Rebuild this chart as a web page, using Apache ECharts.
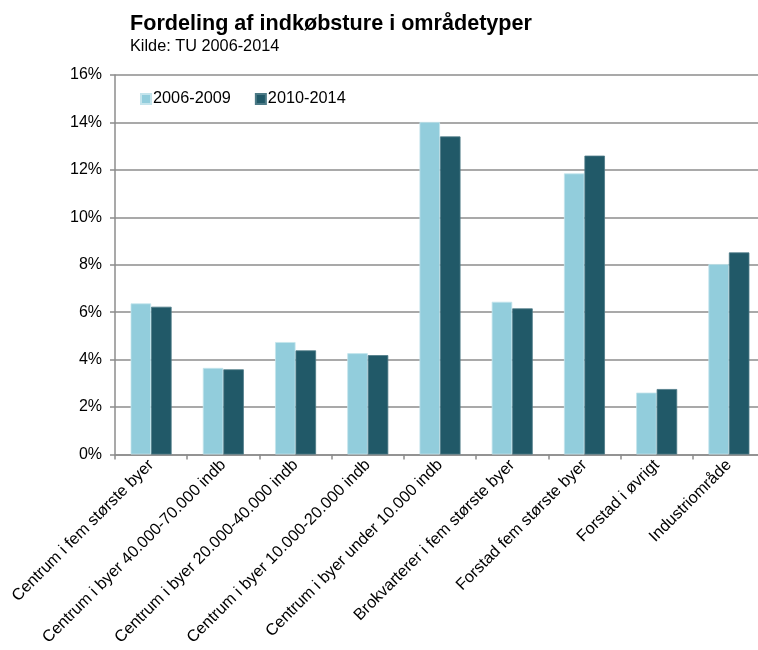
<!DOCTYPE html>
<html>
<head>
<meta charset="utf-8">
<script src="https://cdn.jsdelivr.net/npm/echarts@6/dist/echarts.min.js"></script>
<style>
  html, body { margin: 0; padding: 0; background: #ffffff; }
  #chart { width: 758px; height: 650px; }
</style>
</head>
<body>
<div id="chart"></div>
<script>
// Områdetyper (x-akse)
const categories = [
  'Centrum i fem største byer',
  'Centrum i byer 40.000-70.000 indb',
  'Centrum i byer 20.000-40.000 indb',
  'Centrum i byer 10.000-20.000 indb',
  'Centrum i byer under 10.000 indb',
  'Brokvarterer i fem største byer',
  'Forstad fem største byer',
  'Forstad i øvrigt',
  'Industriområde'
];

// Andel af indkøbsture i procent
const period1Name = '2006-2009';
const period1 = [6.37, 3.65, 4.74, 4.27, 14.02, 6.44, 11.85, 2.61, 8.03];

const period2Name = '2010-2014';
const period2 = [6.23, 3.59, 4.39, 4.19, 13.41, 6.16, 12.6, 2.76, 8.52];

// Y-aksens skala
const yMin = 0;
const yMax = 16;
const yStep = 2;

const FONT = '"Liberation Sans", Arial, sans-serif';
const chart = echarts.init(document.getElementById('chart'), null, { renderer: 'canvas' });

chart.setOption({
  animation: false,
  backgroundColor: '#ffffff',
  title: {
    text: 'Fordeling af indkøbsture i områdetyper',
    subtext: 'Kilde: TU 2006-2014',
    left: 130,
    top: 13,
    itemGap: 4,
    padding: 0,
    textStyle: { fontFamily: FONT, fontSize: 21.6, fontWeight: 'bold', color: '#000000' },
    subtextStyle: { fontFamily: FONT, fontSize: 16.3, color: '#000000' }
  },
  legend: {
    left: 140,
    top: 91,
    padding: 0,
    itemWidth: 10,
    itemHeight: 10,
    itemGap: 24,
    icon: 'rect',
    textStyle: { fontFamily: FONT, fontSize: 16.3, color: '#000000', padding: [0, 0, 0, -3] },
    data: [period1Name, period2Name]
  },
  grid: {
    left: 115,
    top: 75,
    width: 650,
    height: 379.5,
    containLabel: false,
    outerBoundsMode: 'none'
  },
  xAxis: {
    type: 'category',
    data: categories,
    axisLine: { show: true, lineStyle: { color: '#8c8c8c', width: 1.5 } },
    axisTick: { show: true, alignWithLabel: false, length: 5, lineStyle: { color: '#8c8c8c', width: 1.5 } },
    axisLabel: {
      rotate: 45,
      margin: 8,
      interval: 0,
      fontFamily: FONT,
      fontSize: 16.3,
      color: '#000000'
    }
  },
  yAxis: {
    type: 'value',
    min: yMin,
    max: yMax,
    interval: yStep,
    axisLine: { show: true, lineStyle: { color: '#8c8c8c', width: 1.5 } },
    axisTick: { show: true, inside: false, length: 5, lineStyle: { color: '#8c8c8c', width: 1.5 } },
    splitLine: { show: true, lineStyle: { color: '#8c8c8c', width: 1.5 } },
    axisLabel: {
      margin: 13,
      fontFamily: FONT,
      fontSize: 16,
      color: '#000000',
      formatter: '{value}%'
    }
  },
  series: [
    {
      name: period1Name,
      type: 'bar',
      data: period1,
      barWidth: 20.5,
      barGap: '0%',
      itemStyle: { color: '#92cddc', borderColor: '#c4e4ec', borderWidth: 0.8 }
    },
    {
      name: period2Name,
      type: 'bar',
      data: period2,
      barWidth: 20.5,
      barGap: '0%',
      itemStyle: { color: '#215968', borderColor: '#4c7a86', borderWidth: 0.8 }
    }
  ]
});
</script>
</body>
</html>
